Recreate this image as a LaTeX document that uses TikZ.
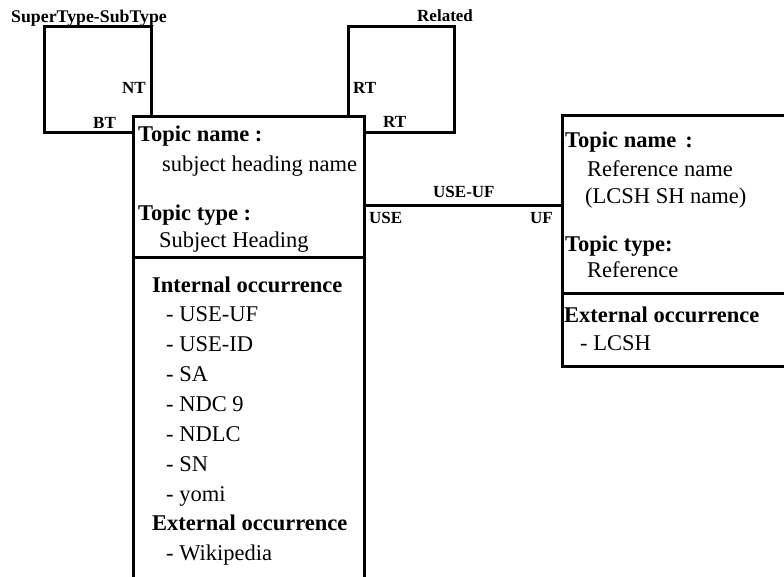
\documentclass[tikz,border=0pt]{standalone}
\usepackage{fontspec}
\setmainfont{Liberation Serif}
\begin{document}
\begin{tikzpicture}[x=1pt,y=-1pt,
  boxline/.style={line width=3pt,line join=miter},
  txt/.style={anchor=base west,inner sep=0pt,font=\fontsize{22.5}{27}\selectfont},
  head/.style={txt,font=\fontsize{22.5}{27}\selectfont\bfseries},
  lbl/.style={anchor=base west,inner sep=0pt,font=\fontsize{17}{20}\selectfont\bfseries}]
\useasboundingbox (0,0) rectangle (784,577);

% corners of the subject heading topic box (open at the bottom)
\coordinate (mTL) at (133,117);
\coordinate (mTR) at (364,117);
\coordinate (mBL) at (133,600);
\coordinate (mBR) at (364,600);
\coordinate (mDivL) at (133,258);
\coordinate (mDivR) at (364,258);

% corners of the reference topic box (open at the right)
\coordinate (rTL) at (562,116);
\coordinate (rTR) at (800,116);
\coordinate (rBL) at (562,366);
\coordinate (rBR) at (800,366);
\coordinate (rDivL) at (562,293);
\coordinate (rDivR) at (800,293);

% end points of the loops and the USE-UF association
\coordinate (btEnd) at (133,133);
\coordinate (ntEnd) at (151,117);
\coordinate (rtTop) at (348,117);
\coordinate (rtSide) at (364,133);
\coordinate (useEnd) at (364,206);
\coordinate (ufEnd) at (562,206);

% boxes
\draw[boxline] (mBL) -- (mTL) -- (mTR) -- (mBR);
\draw[boxline] (mDivL) -- (mDivR);
\draw[boxline] (rTR) -- (rTL) -- (rBL) -- (rBR);
\draw[boxline] (rDivL) -- (rDivR);

% SuperType-SubType self association
\draw[boxline] (btEnd) -- (44,133) -- (44,27) -- (151,27) -- (ntEnd);
% Related self association
\draw[boxline] (rtTop) -- (348,27) -- (454,27) -- (454,133) -- (rtSide);
% USE-UF association
\draw[boxline] (useEnd) -- (ufEnd);

% association labels
\node[lbl,font=\fontsize{17.8}{20}\selectfont\bfseries] (lSuper) at (11,23) {SuperType-SubType};
\node[lbl] (lRelated) at (417,22) {Related};
\node[lbl] (lNT) at (122,94) {NT};
\node[lbl] (lBT) at (93,129) {BT};
\node[lbl] (lRT1) at (353,94) {RT};
\node[lbl] (lRT2) at (383,128) {RT};
\node[lbl] (lUSEUF) at (433,198) {USE-UF};
\node[lbl] (lUSE) at (369,224) {USE};
\node[lbl] (lUF) at (530,224) {UF};

% subject heading topic
\node[head] (mName) at (138,142) {Topic name :};
\node[txt] (mNameV) at (162,172) {subject heading name};
\node[head] (mType) at (138,221) {Topic type :};
\node[txt] (mTypeV) at (159,248) {Subject Heading};
\node[head] (mInt) at (152,292) {Internal occurrence};
\node[txt] (i1) at (166,321.5) {- USE-UF};
\node[txt] (i2) at (166,351.5) {- USE-ID};
\node[txt] (i3) at (166,381.5) {- SA};
\node[txt] (i4) at (166,411) {- NDC 9};
\node[txt] (i5) at (166,441.5) {- NDLC};
\node[txt] (i6) at (166,471.5) {- SN};
\node[txt] (i7) at (166,501.5) {- yomi};
\node[head] (mExt) at (152,530) {External occurrence};
\node[txt] (e1) at (166,560) {- Wikipedia};

% reference topic
\node[head] (rName) at (565,147.5) {Topic name\hspace{9pt}:};
\node[txt] (rNameV1) at (587,176.5) {Reference name};
\node[txt] (rNameV2) at (585,203.5) {(LCSH SH name)};
\node[head] (rType) at (565,251.5) {Topic type:};
\node[txt] (rTypeV) at (587,278) {Reference};
\node[head] (rExt) at (564,322) {External occurrence};
\node[txt] (re1) at (580,350) {- LCSH};
\end{tikzpicture}
\end{document}
